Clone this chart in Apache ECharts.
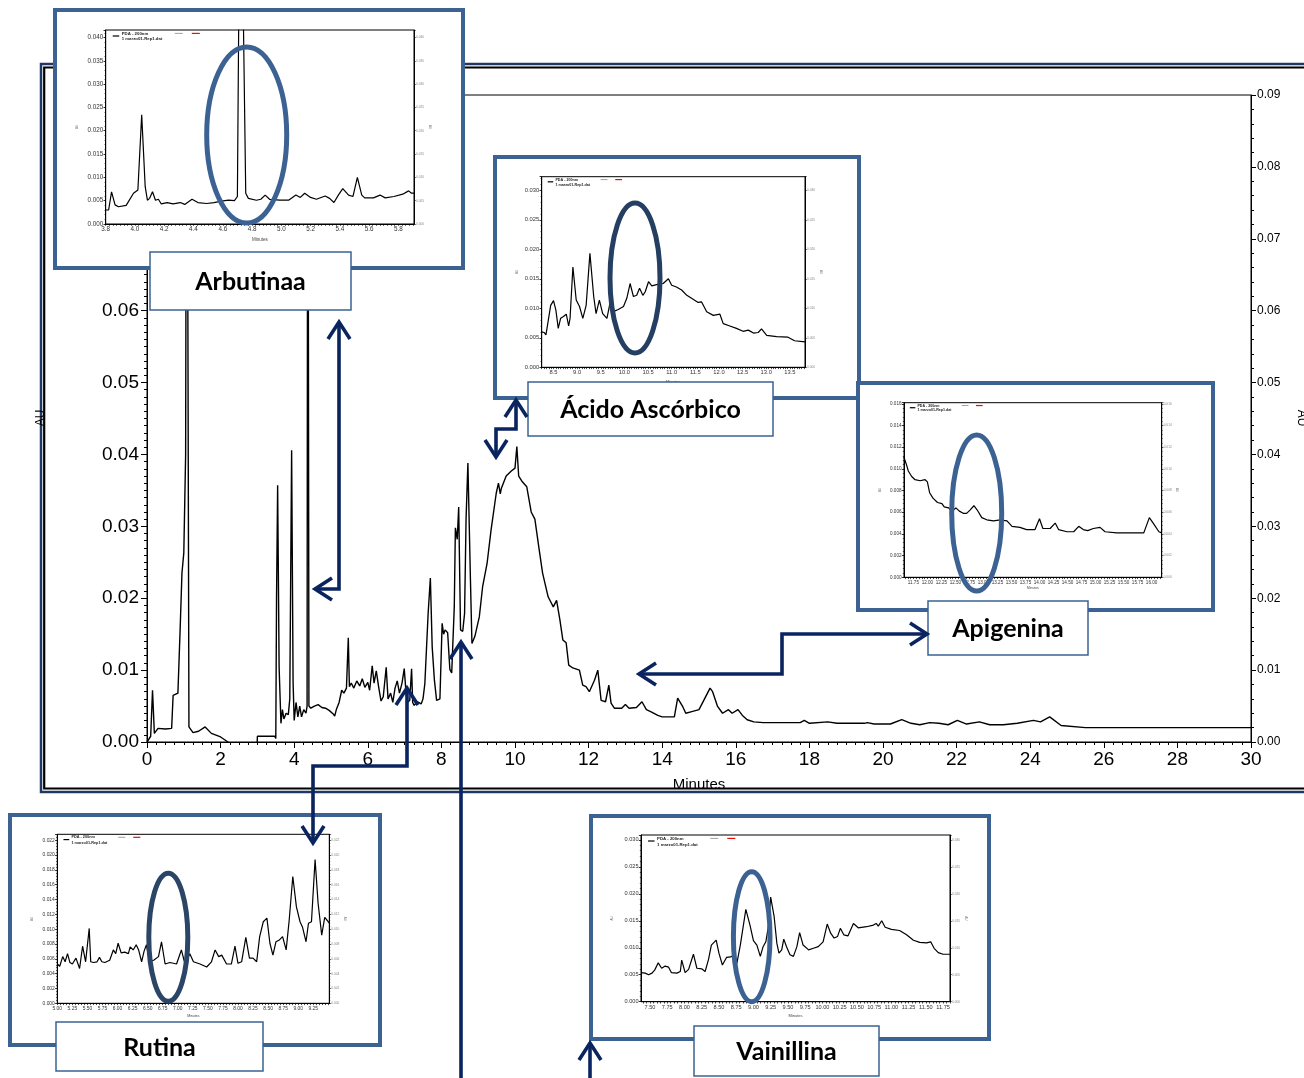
<!DOCTYPE html>
<html>
<head>
<meta charset="utf-8">
<script src="https://cdn.jsdelivr.net/npm/echarts@6/dist/echarts.min.js"></script>
<style>
  html, body { margin: 0; padding: 0; background: #fff; }
  #chart { width: 1304px; height: 1078px; }
</style>
</head>
<body>
<div id="chart"></div>
<script>
// ---- Full run, PDA 200 nm: retention time (min) and absorbance (AU) ----
const mainTime = [0, 0.1, 0.15, 0.2, 0.3, 0.5, 0.67, 0.71, 0.84, 0.9, 0.95, 1.0, 1.05, 1.08, 1.12, 1.14, 1.25, 1.4, 1.58, 1.75, 2.0, 2.2, 2.25, 2.98, 3.0, 3.47, 3.5, 3.52, 3.55, 3.59, 3.64, 3.68, 3.72, 3.78, 3.84, 3.88, 3.93, 3.97, 4.0, 4.05, 4.1, 4.15, 4.2, 4.26, 4.32, 4.35, 4.37, 4.4, 4.45, 4.55, 4.65, 4.75, 4.85, 4.95, 5.06, 5.1, 5.15, 5.22, 5.29, 5.35, 5.42, 5.47, 5.5, 5.55, 5.62, 5.7, 5.78, 5.85, 5.92, 6.0, 6.05, 6.12, 6.17, 6.23, 6.3, 6.36, 6.42, 6.5, 6.55, 6.62, 6.68, 6.74, 6.8, 6.86, 6.93, 6.99, 7.04, 7.08, 7.14, 7.19, 7.22, 7.26, 7.35, 7.45, 7.5, 7.55, 7.64, 7.7, 7.75, 7.81, 7.87, 7.96, 8.02, 8.06, 8.1, 8.17, 8.23, 8.28, 8.35, 8.38, 8.43, 8.47, 8.52, 8.58, 8.63, 8.67, 8.72, 8.79, 8.83, 8.91, 9.03, 9.12, 9.24, 9.35, 9.49, 9.55, 9.6, 9.63, 9.76, 9.9, 10.0, 10.05, 10.1, 10.2, 10.32, 10.44, 10.54, 10.65, 10.75, 10.9, 11.04, 11.13, 11.22, 11.3, 11.39, 11.46, 11.57, 11.75, 11.84, 11.93, 12.02, 12.16, 12.25, 12.34, 12.46, 12.55, 12.61, 12.7, 12.9, 13.0, 13.1, 13.3, 13.45, 13.57, 13.7, 13.88, 14.0, 14.33, 14.42, 14.55, 14.64, 14.78, 15.0, 15.14, 15.3, 15.37, 15.5, 15.64, 15.8, 15.9, 16.06, 16.18, 16.31, 16.49, 16.75, 17.75, 17.86, 18.0, 18.5, 18.75, 19.5, 19.57, 19.76, 20.2, 20.51, 20.76, 21.0, 21.27, 21.52, 21.77, 22.02, 22.27, 22.62, 22.9, 23.27, 23.65, 24.09, 24.28, 24.53, 24.84, 25.5, 30];
const mainAU = [0, 0.0008, 0.0072, 0.0012, 0.0019, 0.0018, 0.0019, 0.0065, 0.0068, 0.0156, 0.0235, 0.0263, 0.04, 0.12, 0.12, 0.0021, 0.0013, 0.0015, 0.0021, 0.0012, 0.0007, 0.0, -0.002, -0.002, 0.0008, 0.0008, 0.0005, 0.02, 0.0357, 0.0104, 0.0026, 0.0045, 0.0032, 0.004, 0.0038, 0.006, 0.0406, 0.0082, 0.003, 0.0055, 0.0035, 0.005, 0.0035, 0.0045, 0.004, 0.005, 0.12, 0.005, 0.0047, 0.005, 0.0052, 0.0048, 0.0047, 0.0044, 0.0039, 0.0036, 0.0046, 0.0055, 0.0072, 0.0068, 0.0075, 0.0145, 0.0077, 0.0082, 0.0075, 0.0085, 0.0078, 0.0088, 0.0076, 0.0083, 0.0072, 0.0106, 0.0082, 0.0099, 0.0075, 0.0057, 0.0063, 0.0104, 0.006, 0.0068, 0.0055, 0.0075, 0.0085, 0.0068, 0.0082, 0.0102, 0.0068, 0.0055, 0.0058, 0.0102, 0.0055, 0.0051, 0.0056, 0.0053, 0.006, 0.0081, 0.0179, 0.0228, 0.0132, 0.0086, 0.0058, 0.006, 0.0165, 0.015, 0.0156, 0.0152, 0.0101, 0.0096, 0.0188, 0.0298, 0.0282, 0.0327, 0.0156, 0.0154, 0.0179, 0.031, 0.0388, 0.0224, 0.0137, 0.0147, 0.0174, 0.0216, 0.0248, 0.0295, 0.0346, 0.036, 0.0345, 0.0353, 0.037, 0.0377, 0.0381, 0.0411, 0.037, 0.0362, 0.0355, 0.032, 0.031, 0.027, 0.0235, 0.0202, 0.0188, 0.0197, 0.017, 0.0142, 0.0138, 0.0107, 0.0103, 0.01, 0.0079, 0.0077, 0.007, 0.0086, 0.01, 0.0058, 0.0056, 0.0079, 0.0054, 0.0047, 0.0047, 0.0052, 0.0047, 0.0048, 0.0056, 0.0045, 0.0042, 0.0037, 0.0035, 0.0035, 0.0061, 0.005, 0.004, 0.0042, 0.0045, 0.0059, 0.0075, 0.007, 0.005, 0.004, 0.0045, 0.004, 0.0045, 0.0037, 0.0031, 0.0028, 0.0027, 0.0027, 0.003, 0.0026, 0.0028, 0.0026, 0.0026, 0.0027, 0.0025, 0.0025, 0.0031, 0.0026, 0.0024, 0.0027, 0.0026, 0.0024, 0.003, 0.0025, 0.0028, 0.0024, 0.0024, 0.0026, 0.003, 0.0028, 0.0035, 0.0023, 0.002, 0.002];

// ---- Zoomed windows ----
const arbTime = [3.8, 3.82, 3.84, 3.864, 3.887, 3.94, 3.99, 4.02, 4.046, 4.07, 4.085, 4.1, 4.12, 4.14, 4.16, 4.18, 4.22, 4.26, 4.31, 4.34, 4.39, 4.43, 4.49, 4.54, 4.59, 4.64, 4.68, 4.7, 4.713, 4.734, 4.757, 4.775, 4.83, 4.86, 4.89, 4.92, 4.99, 5.05, 5.1, 5.13, 5.16, 5.2, 5.24, 5.3, 5.33, 5.36, 5.39, 5.42, 5.46, 5.49, 5.52, 5.55, 5.57, 5.63, 5.675, 5.71, 5.77, 5.83, 5.87, 5.89, 5.907];
const arbAU = [0.003, 0.003, 0.0069, 0.0041, 0.0037, 0.004, 0.0066, 0.0073, 0.0234, 0.008, 0.0051, 0.0055, 0.0069, 0.0051, 0.0053, 0.0043, 0.0046, 0.0043, 0.0046, 0.0042, 0.0053, 0.0046, 0.0044, 0.0046, 0.0049, 0.0051, 0.005, 0.0059, 0.06, 0.06, 0.0066, 0.0055, 0.0051, 0.0053, 0.0062, 0.0053, 0.0051, 0.0051, 0.0062, 0.0057, 0.0066, 0.0057, 0.0053, 0.006, 0.0055, 0.0046, 0.0062, 0.0076, 0.0062, 0.0059, 0.01, 0.0062, 0.0056, 0.0056, 0.0062, 0.0056, 0.0059, 0.0064, 0.0071, 0.0066, 0.0066];
const arbTicks = [3.8, 4.0, 4.2, 4.4, 4.6, 4.8, 5.0, 5.2, 5.4, 5.6, 5.8];

const ascTime = [8.25, 8.3, 8.34, 8.39, 8.44, 8.5, 8.55, 8.6, 8.65, 8.71, 8.77, 8.82, 8.85, 8.91, 8.98, 9.05, 9.12, 9.19, 9.27, 9.35, 9.4, 9.47, 9.54, 9.63, 9.7, 9.75, 9.87, 9.98, 10.05, 10.12, 10.19, 10.26, 10.32, 10.39, 10.44, 10.51, 10.58, 10.68, 10.82, 10.93, 11.0, 11.1, 11.21, 11.32, 11.42, 11.56, 11.63, 11.67, 11.74, 11.88, 12.02, 12.09, 12.23, 12.37, 12.51, 12.62, 12.73, 12.83, 12.9, 13.01, 13.22, 13.46, 13.6, 13.82];
const ascAU = [0.006, 0.0059, 0.0055, 0.008, 0.0105, 0.0113, 0.0097, 0.0066, 0.0083, 0.0086, 0.009, 0.007, 0.0083, 0.017, 0.0114, 0.0103, 0.0083, 0.0105, 0.0193, 0.012, 0.0091, 0.0114, 0.0091, 0.0083, 0.0111, 0.0094, 0.0098, 0.0103, 0.0117, 0.0142, 0.012, 0.0122, 0.0134, 0.0122, 0.0128, 0.0145, 0.0138, 0.014, 0.0142, 0.015, 0.0139, 0.0136, 0.0131, 0.0122, 0.0117, 0.011, 0.0111, 0.011, 0.0094, 0.0088, 0.009, 0.0074, 0.007, 0.0066, 0.0061, 0.0063, 0.0058, 0.0059, 0.0065, 0.0054, 0.0052, 0.0051, 0.0045, 0.0043];
const ascTicks = [8.5, 9.0, 9.5, 10.0, 10.5, 11.0, 11.5, 12.0, 12.5, 13.0, 13.5];

const apiTime = [11.58, 11.62, 11.66, 11.72, 11.78, 11.87, 11.96, 12.0, 12.04, 12.1, 12.18, 12.26, 12.3, 12.38, 12.43, 12.51, 12.57, 12.64, 12.7, 12.76, 12.83, 12.89, 12.97, 13.06, 13.18, 13.3, 13.42, 13.51, 13.65, 13.77, 13.92, 14.0, 14.06, 14.19, 14.28, 14.34, 14.49, 14.61, 14.7, 14.78, 14.86, 14.96, 15.08, 15.17, 15.38, 15.68, 15.86, 15.96, 16.04, 16.13, 16.18];
const apiAU = [0.0111, 0.0105, 0.0098, 0.0093, 0.009, 0.0089, 0.009, 0.0088, 0.0078, 0.0073, 0.0069, 0.0068, 0.0065, 0.0064, 0.0061, 0.0064, 0.0061, 0.0059, 0.0059, 0.0062, 0.0066, 0.0062, 0.0055, 0.0053, 0.0052, 0.0053, 0.0052, 0.0047, 0.0046, 0.0044, 0.0044, 0.0054, 0.0045, 0.0045, 0.005, 0.0044, 0.0042, 0.0042, 0.0047, 0.0044, 0.0043, 0.0045, 0.0046, 0.0042, 0.0041, 0.0041, 0.0041, 0.0055, 0.0049, 0.0042, 0.0041];
const apiTicks = [11.75, 12.0, 12.25, 12.5, 12.75, 13.0, 13.25, 13.5, 13.75, 14.0, 14.25, 14.5, 14.75, 15.0, 15.25, 15.5, 15.75, 16.0];

const rutTime = [5.0, 5.04, 5.09, 5.13, 5.17, 5.21, 5.25, 5.31, 5.37, 5.42, 5.47, 5.5, 5.53, 5.555, 5.6, 5.66, 5.7, 5.74, 5.79, 5.87, 5.93, 5.97, 6.01, 6.06, 6.12, 6.18, 6.21, 6.26, 6.31, 6.35, 6.4, 6.44, 6.48, 6.53, 6.6, 6.68, 6.73, 6.79, 6.87, 6.98, 7.06, 7.12, 7.2, 7.26, 7.37, 7.48, 7.56, 7.62, 7.68, 7.73, 7.81, 7.89, 7.95, 8.0, 8.06, 8.13, 8.19, 8.25, 8.31, 8.36, 8.42, 8.48, 8.53, 8.58, 8.63, 8.68, 8.74, 8.8, 8.85, 8.91, 8.97, 9.03, 9.07, 9.13, 9.17, 9.22, 9.28, 9.33, 9.39, 9.44, 9.52];
const rutAU = [0.0053, 0.005, 0.0063, 0.0056, 0.0067, 0.0055, 0.0053, 0.0061, 0.0047, 0.0077, 0.0056, 0.0058, 0.0101, 0.0056, 0.0055, 0.0056, 0.0062, 0.0056, 0.0055, 0.0058, 0.0072, 0.0067, 0.0081, 0.0068, 0.0069, 0.0067, 0.0076, 0.0072, 0.0079, 0.0072, 0.0056, 0.007, 0.0079, 0.0056, 0.0058, 0.0063, 0.0083, 0.0053, 0.0055, 0.0053, 0.0072, 0.0053, 0.0067, 0.0056, 0.0053, 0.0049, 0.0056, 0.0072, 0.0063, 0.0065, 0.0053, 0.0053, 0.0077, 0.0054, 0.0056, 0.0089, 0.0061, 0.0061, 0.0056, 0.009, 0.011, 0.0115, 0.0081, 0.0065, 0.0083, 0.0085, 0.009, 0.0072, 0.0112, 0.0171, 0.013, 0.011, 0.0103, 0.0083, 0.0108, 0.011, 0.0194, 0.0135, 0.0092, 0.0116, 0.0108];
const rutTicks = [5.0, 5.25, 5.5, 5.75, 6.0, 6.25, 6.5, 6.75, 7.0, 7.25, 7.5, 7.75, 8.0, 8.25, 8.5, 8.75, 9.0, 9.25];

const vaiTime = [7.37, 7.43, 7.48, 7.53, 7.57, 7.62, 7.67, 7.72, 7.77, 7.81, 7.89, 7.94, 7.96, 8.01, 8.06, 8.13, 8.18, 8.25, 8.3, 8.35, 8.39, 8.46, 8.5, 8.55, 8.61, 8.67, 8.71, 8.76, 8.81, 8.89, 8.95, 9.0, 9.05, 9.1, 9.14, 9.18, 9.22, 9.25, 9.3, 9.34, 9.37, 9.41, 9.44, 9.48, 9.53, 9.58, 9.63, 9.67, 9.72, 9.8, 9.87, 9.94, 10.01, 10.07, 10.12, 10.17, 10.22, 10.26, 10.31, 10.37, 10.45, 10.52, 10.64, 10.74, 10.78, 10.81, 10.86, 10.91, 11.0, 11.12, 11.22, 11.32, 11.41, 11.51, 11.57, 11.62, 11.68, 11.75, 11.85];
const vaiAU = [0.0054, 0.0053, 0.005, 0.0053, 0.0059, 0.0072, 0.0062, 0.0066, 0.0064, 0.0054, 0.0053, 0.0056, 0.0077, 0.0054, 0.006, 0.0088, 0.0062, 0.0061, 0.0056, 0.0079, 0.0105, 0.0114, 0.009, 0.0068, 0.0082, 0.0083, 0.0086, 0.0071, 0.0105, 0.0171, 0.0142, 0.0113, 0.0105, 0.0084, 0.0102, 0.0111, 0.0142, 0.0194, 0.0158, 0.0108, 0.009, 0.0096, 0.0116, 0.0102, 0.0087, 0.0084, 0.0102, 0.0128, 0.0105, 0.0096, 0.0099, 0.0102, 0.0111, 0.0144, 0.0127, 0.0118, 0.0121, 0.0136, 0.0124, 0.0122, 0.0145, 0.0137, 0.0139, 0.0142, 0.0145, 0.014, 0.015, 0.0138, 0.0134, 0.0132, 0.0124, 0.0114, 0.011, 0.0109, 0.0111, 0.0099, 0.0091, 0.0088, 0.0088];
const vaiTicks = [7.5, 7.75, 8.0, 8.25, 8.5, 8.75, 9.0, 9.25, 9.5, 9.75, 10.0, 10.25, 10.5, 10.75, 11.0, 11.25, 11.5, 11.75];

// ---- Layout and styling ----
const BLUE = '#3B6292';
const NAVY = '#0A2460';
const FONT = 'Liberation Sans, Arial, sans-serif';
const TAG_FONT = 'bold 25px Lato, "Open Sans", sans-serif';

const zip = (xs, ys) => xs.map((x, i) => [x, ys[i]]);

const panels = [
  { tag: 'Arbutinaa', time: arbTime, au: arbAU, ticks: arbTicks, digits: 1, minor: 0.025,
    xMin: 3.8, xMax: 5.907, yMax: 0.0416, yStep: 0.005, font: 6.3,
    box: [55, 10, 408, 258], plot: [105.7, 30, 308.3, 194],
    ring: [246.7, 135, 40, 88, BLUE], label: [150, 252, 201, 58] },
  { tag: 'Ácido Ascórbico', time: ascTime, au: ascAU, ticks: ascTicks, digits: 1, minor: 0.05,
    xMin: 8.25, xMax: 13.82, yMax: 0.0323, yStep: 0.005, font: 5.8,
    box: [495, 157, 364, 241], plot: [541.7, 176.7, 263.3, 190.6],
    ring: [635, 278, 25, 75, '#253F62'], label: [528, 382, 245, 54] },
  { tag: 'Apigenina', time: apiTime, au: apiAU, ticks: apiTicks, digits: 2, minor: 0.05,
    xMin: 11.583, xMax: 16.18, yMax: 0.0161, yStep: 0.002, font: 4.6,
    box: [858, 383, 355, 227], plot: [904, 402.7, 257.7, 174.6],
    ring: [976.7, 513, 25, 78, BLUE], label: [928, 601, 160, 54] },
  { tag: 'Rutina', time: rutTime, au: rutAU, ticks: rutTicks, digits: 2, minor: 0.05,
    xMin: 5.0, xMax: 9.516, yMax: 0.0228, yStep: 0.002, font: 4.9,
    box: [10, 815, 370, 230], plot: [57.3, 834.3, 272, 169],
    ring: [168.3, 937.3, 19.5, 64, '#2B4567'], label: [56, 1022, 207, 49] },
  { tag: 'Vainillina', time: vaiTime, au: vaiAU, ticks: vaiTicks, digits: 2, minor: 0.05,
    xMin: 7.37, xMax: 11.85, yMax: 0.0309, yStep: 0.005, font: 5.6,
    box: [591, 816, 398, 223], plot: [641, 835, 309, 166.7],
    ring: [751.7, 936.7, 18.3, 65, BLUE], label: [694, 1026, 185, 50] }
];

const grid = [{
  left: 147, top: 95, width: 1104, height: 647, show: true,
  borderColor: '#000', borderWidth: 1, backgroundColor: 'transparent',
  containLabel: false, outerBoundsMode: 'none'
}];
const xAxis = [{
  type: 'value', gridIndex: 0, min: 0, max: 30, interval: 2,
  axisLine: { show: true, lineStyle: { color: '#000', width: 1 } },
  axisTick: { show: true, length: 6, lineStyle: { color: '#000' } },
  minorTick: { show: true, splitNumber: 8, length: 3, lineStyle: { color: '#000' } },
  splitLine: { show: false },
  axisLabel: { fontSize: 19, color: '#000', margin: 8, fontFamily: FONT },
  name: 'Minutes', nameLocation: 'middle', nameGap: 35,
  nameTextStyle: { fontSize: 15, color: '#000', fontFamily: FONT }
}];
const yAxis = [{
  type: 'value', gridIndex: 0, min: 0, max: 0.09, interval: 0.01, position: 'left',
  axisLine: { show: true, lineStyle: { color: '#000', width: 1 } },
  axisTick: { show: true, length: 6, lineStyle: { color: '#000' } },
  minorTick: { show: true, splitNumber: 10, length: 3, lineStyle: { color: '#000' } },
  splitLine: { show: false },
  axisLabel: { fontSize: 19, color: '#000', margin: 8, fontFamily: FONT, formatter: v => v.toFixed(2) }
}, {
  type: 'value', gridIndex: 0, min: 0, max: 0.09, interval: 0.01, position: 'right',
  axisLine: { show: true, lineStyle: { color: '#000', width: 1 } },
  axisTick: { show: true, length: 5, lineStyle: { color: '#000' } },
  minorTick: { show: true, splitNumber: 5, length: 3, lineStyle: { color: '#000' } },
  splitLine: { show: false },
  axisLabel: { fontSize: 12, color: '#000', margin: 6, fontFamily: FONT, formatter: v => v.toFixed(2) }
}];
const series = [{
  type: 'line', xAxisIndex: 0, yAxisIndex: 0, data: zip(mainTime, mainAU),
  symbol: 'none', clip: true, z: 2,
  lineStyle: { color: '#000', width: 1.4 }
}];

// frame around the whole figure (double rule)
const graphic = [
  { type: 'polyline', z: 1, silent: true, shape: { points: [[1304, 64], [41, 64], [41, 792], [1304, 792]] },
    style: { stroke: '#1F3864', lineWidth: 2.5, fill: 'none' } },
  { type: 'polyline', z: 1, silent: true, shape: { points: [[1304, 67.5], [44.2, 67.5], [44.2, 788.5], [1304, 788.5]] },
    style: { stroke: '#000', lineWidth: 2.2, fill: 'none' } },
  { type: 'text', z: 2, silent: true, x: 41, y: 418, rotation: Math.PI / 2,
    style: { text: 'AU', font: '12px ' + FONT, fill: '#000', align: 'center', verticalAlign: 'middle' } },
  { type: 'text', z: 2, silent: true, x: 1301, y: 418, rotation: -Math.PI / 2,
    style: { text: 'AU', font: '12px ' + FONT, fill: '#000', align: 'center', verticalAlign: 'middle' } }
];

const fmtY = step => v => (Math.abs(v / step - Math.round(v / step)) < 1e-6 ? v.toFixed(3) : '');
const seg = (pts, color, w, z) => ({ type: 'polyline', z, silent: true, shape: { points: pts },
  style: { stroke: color, lineWidth: w, fill: 'none', lineJoin: 'miter', lineCap: 'butt' } });

panels.forEach((p, i) => {
  const gi = i + 1;
  const [px, py, pw, ph] = p.plot;
  const ls = pw / 308;
  grid.push({ left: px, top: py, width: pw, height: ph, show: true, borderColor: '#000', borderWidth: 1,
    backgroundColor: 'transparent', z: 12, containLabel: false, outerBoundsMode: 'none' });

  const minorVals = [];
  for (let k = Math.ceil(p.xMin / p.minor - 1e-9); k * p.minor <= p.xMax + 1e-9; k++) minorVals.push(+(k * p.minor).toFixed(4));

  xAxis.push({
    type: 'value', gridIndex: gi, min: p.xMin, max: p.xMax, z: 12,
    axisLine: { show: true, lineStyle: { color: '#000', width: 1 } },
    axisTick: { show: true, customValues: minorVals, length: 1.8, lineStyle: { color: '#000', width: 0.7 } },
    minorTick: { show: false }, splitLine: { show: false },
    axisLabel: { customValues: p.ticks, formatter: v => v.toFixed(p.digits), fontSize: p.font,
      color: '#333', margin: 2.5, fontFamily: FONT },
    name: 'Minutes', nameLocation: 'middle', nameGap: p.font * 2.1,
    nameTextStyle: { fontSize: p.font * 0.72, color: '#444', fontFamily: FONT }
  });
  const yl = yAxis.length;
  yAxis.push({
    type: 'value', gridIndex: gi, min: 0, max: p.yMax, interval: p.yStep, position: 'left', z: 12,
    axisLine: { show: true, lineStyle: { color: '#000', width: 1 } },
    axisTick: { show: true, length: 2.2, lineStyle: { color: '#000', width: 0.8 } },
    minorTick: { show: true, splitNumber: 5, length: 1.2, lineStyle: { color: '#000', width: 0.6 } },
    splitLine: { show: false },
    axisLabel: { fontSize: p.font, color: '#333', margin: 2.5, fontFamily: FONT, formatter: fmtY(p.yStep) },
    name: 'AU', nameLocation: 'middle', nameGap: 27 * ls, nameRotate: 90,
    nameTextStyle: { fontSize: 3, color: '#777', fontFamily: FONT }
  });
  yAxis.push({
    type: 'value', gridIndex: gi, min: 0, max: p.yMax, interval: p.yStep, position: 'right', z: 12,
    axisLine: { show: true, lineStyle: { color: '#000', width: 1 } },
    axisTick: { show: true, length: 1.8, lineStyle: { color: '#000', width: 0.6 } },
    minorTick: { show: true, splitNumber: 5, length: 1, lineStyle: { color: '#000', width: 0.5 } },
    splitLine: { show: false },
    axisLabel: { fontSize: 3.2, color: '#888', margin: 2, fontFamily: FONT, formatter: fmtY(p.yStep) },
    name: 'AU', nameLocation: 'middle', nameGap: 13 * ls, nameRotate: -90,
    nameTextStyle: { fontSize: 3, color: '#777', fontFamily: FONT }
  });
  series.push({
    type: 'line', xAxisIndex: gi, yAxisIndex: yl, data: zip(p.time, p.au),
    symbol: 'none', clip: true, z: 13, lineStyle: { color: '#000', width: 1.2 }
  });

  const [bx, by, bw, bh] = p.box;
  graphic.push({ type: 'rect', z: 10, silent: true, shape: { x: bx, y: by, width: bw, height: bh },
    style: { fill: '#fff', stroke: BLUE, lineWidth: 4 } });

  // trace legend inside the zoomed panel
  graphic.push(seg([[px + 7 * ls, py + 6 * ls], [px + 13.5 * ls, py + 6 * ls]], '#000', 1.2, 14));
  graphic.push(seg([[px + 69 * ls, py + 3.4 * ls], [px + 77 * ls, py + 3.4 * ls]], '#888', 0.8, 14));
  graphic.push(seg([[px + 86 * ls, py + 3.4 * ls], [px + 94 * ls, py + 3.4 * ls]], '#E01010', 1.2, 14));
  graphic.push({ type: 'text', z: 14, silent: true, x: px + 16 * ls, y: py + 3.4 * ls,
    style: { text: 'PDA - 200nm', font: 'bold ' + (4.3 * ls).toFixed(2) + 'px ' + FONT, fill: '#222', align: 'left', verticalAlign: 'middle' } });
  graphic.push({ type: 'text', z: 14, silent: true, x: px + 16 * ls, y: py + 9.3 * ls,
    style: { text: '1 marzo01-Rep1.dat', font: 'bold ' + (4.3 * ls).toFixed(2) + 'px ' + FONT, fill: '#222', align: 'left', verticalAlign: 'middle' } });

  const [cx, cy, rx, ry, rc] = p.ring;
  graphic.push({ type: 'ellipse', z: 15, silent: true, shape: { cx, cy, rx, ry },
    style: { fill: 'none', stroke: rc, lineWidth: 5 } });

  const [lx, ly, lw, lh] = p.label;
  graphic.push({ type: 'rect', z: 16, silent: true, shape: { x: lx, y: ly, width: lw, height: lh },
    style: { fill: '#fff', stroke: BLUE, lineWidth: 1.5 } });
  graphic.push({ type: 'text', z: 17, silent: true, x: lx + lw / 2, y: ly + lh / 2 + 1,
    style: { text: p.tag, font: TAG_FONT, fill: '#000', align: 'center', verticalAlign: 'middle' } });
});

// connector arrows
const head = (x, y, dir) => {
  const a = 11, d = 17;
  const pts = { up: [[x - a, y + d], [x, y], [x + a, y + d]], down: [[x - a, y - d], [x, y], [x + a, y - d]],
    left: [[x + d, y - a], [x, y], [x + d, y + a]], right: [[x - d, y - a], [x, y], [x - d, y + a]] }[dir];
  return seg(pts, NAVY, 3.6, 18);
};
const W = 3.6;
graphic.push(
  seg([[339, 322], [339, 589], [315, 589]], NAVY, W, 18), head(339, 322, 'up'), head(315, 589, 'left'),
  seg([[516, 400], [516, 429], [496, 429], [496, 457]], NAVY, W, 18), head(516, 400, 'up'), head(496, 457, 'down'),
  seg([[639, 674], [782, 674], [782, 634], [927, 634]], NAVY, W, 18), head(639, 674, 'left'), head(927, 634, 'right'),
  seg([[407, 688], [407, 766], [313, 766], [313, 843]], NAVY, W, 18), head(407, 688, 'up'), head(313, 843, 'down'),
  seg([[461, 642], [461, 1080]], NAVY, W, 18), head(461, 642, 'up'),
  seg([[590, 1043], [590, 1080]], NAVY, W, 18), head(590, 1043, 'up')
);

const chart = echarts.init(document.getElementById('chart'), null, { renderer: 'canvas' });
chart.setOption({
  animation: false,
  backgroundColor: '#fff',
  grid, xAxis, yAxis, series, graphic
});
</script>
</body>
</html>
